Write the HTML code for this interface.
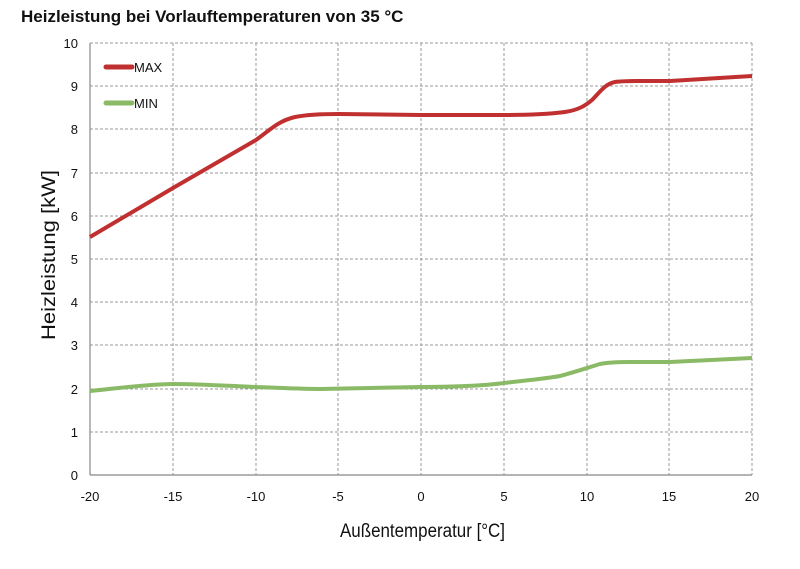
<!DOCTYPE html>
<html><head><style>body{margin:0;background:#fff}</style></head><body>
<svg width="800" height="564" xmlns="http://www.w3.org/2000/svg" font-family="Liberation Sans, sans-serif">
<rect width="800" height="564" fill="#fff"/>
<text x="21" y="22" font-size="17" font-weight="bold" fill="#111">Heizleistung bei Vorlauftemperaturen von 35 °C</text>
<g stroke="#999" stroke-dasharray="3,2" stroke-width="1">
<line x1="90" y1="43" x2="752" y2="43"/><line x1="90" y1="86" x2="752" y2="86"/><line x1="90" y1="129" x2="752" y2="129"/><line x1="90" y1="173" x2="752" y2="173"/><line x1="90" y1="216" x2="752" y2="216"/><line x1="90" y1="259" x2="752" y2="259"/><line x1="90" y1="302" x2="752" y2="302"/><line x1="90" y1="345" x2="752" y2="345"/><line x1="90" y1="389" x2="752" y2="389"/><line x1="90" y1="432" x2="752" y2="432"/>
<line x1="173" y1="43" x2="173" y2="475"/><line x1="256" y1="43" x2="256" y2="475"/><line x1="338" y1="43" x2="338" y2="475"/><line x1="421" y1="43" x2="421" y2="475"/><line x1="504" y1="43" x2="504" y2="475"/><line x1="587" y1="43" x2="587" y2="475"/><line x1="669" y1="43" x2="669" y2="475"/><line x1="752" y1="43" x2="752" y2="475"/>
</g>
<line x1="90" y1="43" x2="90" y2="475" stroke="#888" stroke-width="1.2"/>
<line x1="90" y1="475" x2="752" y2="475" stroke="#888" stroke-width="1.2"/>
<g font-size="13" fill="#111" text-anchor="end">
<text x="78" y="48">10</text><text x="78" y="91">9</text><text x="78" y="134">8</text><text x="78" y="178">7</text><text x="78" y="221">6</text><text x="78" y="264">5</text><text x="78" y="307">4</text><text x="78" y="350">3</text><text x="78" y="394">2</text><text x="78" y="437">1</text><text x="78" y="480">0</text>
</g>
<g font-size="13" fill="#111" text-anchor="middle">
<text x="90" y="501">-20</text><text x="173" y="501">-15</text><text x="256" y="501">-10</text><text x="338" y="501">-5</text><text x="421" y="501">0</text><text x="504" y="501">5</text><text x="587" y="501">10</text><text x="669" y="501">15</text><text x="752" y="501">20</text>
</g>
<text x="340" y="537" font-size="19" fill="#111" textLength="165" lengthAdjust="spacingAndGlyphs">Außentemperatur [°C]</text>
<text transform="translate(55,340) rotate(-90)" font-size="19" fill="#111" textLength="170" lengthAdjust="spacingAndGlyphs">Heizleistung [kW]</text>
<path d="M90,237 L173,188 L256,140 C270,130 278,121 295,117 C310,114 330,114 339,114 L421,115 L504,115 C530,115 550,114 565,112 C578,110 585,106 592,100 C600,92 605,84 615,82 C622,81 630,81 640,81 L670,81 L752,76" fill="none" stroke="#c03030" stroke-width="4"/>
<path d="M90,391 C120,388 150,384 173,384 C200,384 230,386 256,387 C280,388 300,389 320,389 L421,387 C460,387 490,385 504,383 C530,380 550,378 560,376 C575,372 590,367 600,364 C610,362 620,362 630,362 L670,362 L752,358" fill="none" stroke="#8aba66" stroke-width="4"/>
<line x1="106" y1="67" x2="132" y2="67" stroke="#c03030" stroke-width="5" stroke-linecap="round"/>
<text x="134" y="72" font-size="13" fill="#111">MAX</text>
<line x1="106" y1="103" x2="132" y2="103" stroke="#8aba66" stroke-width="5" stroke-linecap="round"/>
<text x="134" y="108" font-size="13" fill="#111">MIN</text>
</svg>
</body></html>
